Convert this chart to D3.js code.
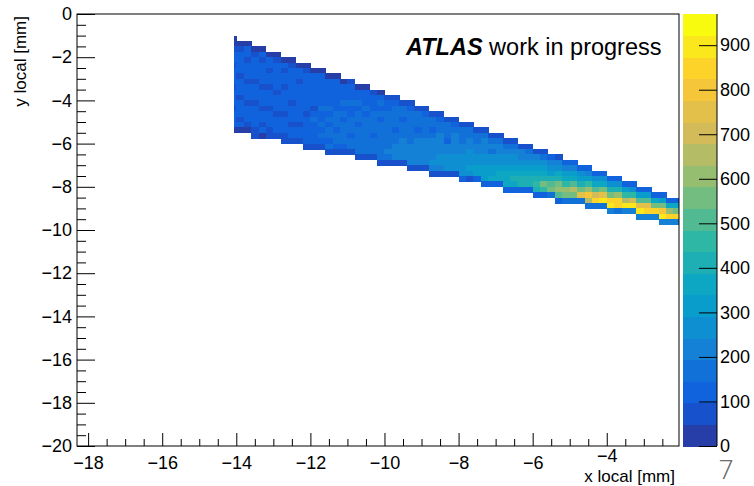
<!DOCTYPE html>
<html><head><meta charset="utf-8">
<script src="https://cdn.jsdelivr.net/npm/d3@7"></script>
<style>body{margin:0;background:#fff}svg{display:block}</style>
</head><body>
<svg id="chart" width="754" height="486"></svg>
<script>
// ---------------- data ----------------
const xMajorTicks = [-18,-16,-14,-12,-10,-8,-6,-4];
const xMinorTicks = [-17.5,-17,-16.5,-15.5,-15,-14.5,-13.5,-13,-12.5,-11.5,-11,-10.5,-9.5,-9,-8.5,-7.5,-7,-6.5,-5.5,-5,-4.5,-3.5,-3,-2.5];
const yMajorTicks = [0,-2,-4,-6,-8,-10,-12,-14,-16,-18,-20];
const yMinorTicks = [-0.5,-1,-1.5,-2.5,-3,-3.5,-4.5,-5,-5.5,-6.5,-7,-7.5,-8.5,-9,-9.5,-10.5,-11,-11.5,-12.5,-13,-13.5,-14.5,-15,-15.5,-16.5,-17,-17.5,-18.5,-19,-19.5];
const zTicks = [0,100,200,300,400,500,600,700,800,900];
const zMax = 970;
const nContours = 20;
const yBinWidth = 0.25;
// x bin edges of the 2D histogram (mm)
const xBinEdges = [-14.05,-14.0,-13.8,-13.6,-13.4,-13.2,-13.0,-12.8,-12.6,-12.4,-12.2,-12.0,-11.8,-11.6,-11.4,-11.2,-11.0,-10.8,-10.6,-10.4,-10.2,-10.0,-9.8,-9.6,-9.4,-9.2,-9.0,-8.8,-8.6,-8.4,-8.2,-8.0,-7.8,-7.6,-7.4,-7.2,-7.0,-6.8,-6.6,-6.4,-6.2,-6.0,-5.8,-5.6,-5.4,-5.2,-5.0,-4.8,-4.6,-4.4,-4.2,-4.0,-3.8,-3.6,-3.4,-3.2,-3.0,-2.8,-2.6,-2.4,-2.2,-2.0];
// index of the first filled y bin (counted downward from y=0) in each x column
const topRow = [4,5,5,6,6,7,7,8,8,9,9,10,10,11,11,12,12,13,13,14,14,15,15,16,16,17,17,18,18,19,19,20,20,21,21,22,22,23,23,24,24,25,25,26,26,27,27,28,28,29,29,30,30,31,31,32,32,33,33,34,34];
// entries per bin, from the top filled bin downward, one list per x column
const counts = [
 [40,45,90,115,120,85,125,110,130,95,120,105,125,90,115,120,100,40],
 [40,90,115,120,105,125,85,130,115,120,90,125,130,115,95,100,45],
 [35,105,120,90,125,115,130,95,125,110,120,85,125,120,110,90,40],
 [45,85,120,125,115,130,90,110,125,135,95,115,130,120,125,90,50],
 [40,100,90,130,120,110,135,85,120,115,130,95,125,130,90,115,45],
 [35,110,120,95,130,125,90,135,115,130,85,125,135,120,95,50],
 [45,90,125,120,115,135,130,95,125,130,140,90,130,125,100,55],
 [40,110,95,130,125,90,135,130,125,140,95,135,125,135,90,50],
 [35,95,125,120,135,100,125,140,90,135,125,140,95,130,125,55],
 [45,110,130,95,120,140,135,100,140,135,145,95,140,130,60],
 [40,95,125,135,130,100,140,135,145,95,140,145,135,100,130,50],
 [45,120,100,125,140,135,145,95,135,150,140,100,140,135,60],
 [40,100,135,130,145,100,135,150,145,105,150,145,150,105,65],
 [45,120,130,105,135,145,150,105,155,145,150,155,110,150,55],
 [40,105,135,145,140,110,145,155,150,160,110,150,160,145,65],
 [45,120,140,110,150,145,155,115,160,155,165,160,115,70],
 [50,110,135,145,150,115,145,160,155,165,120,170,160,65],
 [45,130,115,150,145,160,155,120,160,170,165,175,165,60],
 [40,115,145,140,155,120,165,155,170,175,165,180,170,70],
 [50,135,145,120,150,165,160,175,125,180,175,185,75],
 [45,120,150,145,160,125,170,165,180,175,185,190,180,65],
 [50,140,125,160,155,170,165,180,185,175,195,190,80],
 [55,125,155,160,170,175,130,190,185,200,205,195,75],
 [60,150,165,130,175,185,180,195,205,210,200,80],
 [55,130,160,170,165,180,190,185,200,210,220,205,75],
 [60,155,165,175,135,180,195,210,215,225,215,85],
 [55,135,170,180,175,190,205,215,225,235,220,80],
 [65,160,175,140,185,200,210,225,235,245,230,90],
 [60,140,170,185,195,205,220,230,245,255,235,85],
 [65,165,180,190,145,215,230,245,260,250,95],
 [70,145,185,195,210,225,240,260,275,265,90],
 [65,170,190,150,215,235,255,275,290,275,100],
 [75,150,185,205,225,245,265,285,305,285,95],
 [70,175,160,215,240,260,285,310,325,105],
 [75,155,195,220,235,255,280,305,330,315,100],
 [80,180,205,170,250,275,305,335,345,110],
 [75,160,210,235,260,290,320,355,365,105],
 [80,190,215,245,270,305,345,375,355,120],
 [85,170,225,255,285,325,365,405,385,115],
 [90,200,235,270,305,355,405,395,130],
 [85,180,240,280,325,375,435,415,125],
 [95,215,250,295,345,405,455,435,140],
 [90,190,260,310,365,435,535,475,135],
 [100,225,275,325,395,495,575,150],
 [95,200,285,340,415,535,625,495,145],
 [105,240,295,365,455,595,535,160],
 [100,215,305,385,495,675,575,155],
 [110,255,325,425,575,755,170],
 [105,230,335,445,615,795,675,165],
 [115,270,355,495,695,835,180],
 [110,245,375,535,775,875,190],
 [120,285,395,575,825,895,200],
 [115,260,415,615,855,865,190],
 [125,305,455,675,875,210],
 [120,280,475,715,895,200],
 [130,325,495,755,905,220],
 [125,300,515,775,855,210],
 [135,355,575,835,230],
 [130,320,535,815,875,220],
 [140,365,595,855,240],
 [135,340,575,825,230]
];
// ROOT kBird palette
const birdStops = [0.0,0.125,0.25,0.375,0.5,0.625,0.75,0.875,1.0];
const birdRed   = [0.2082,0.0592,0.0780,0.0232,0.1802,0.5301,0.8186,0.9956,0.9764];
const birdGreen = [0.1664,0.3599,0.5041,0.6419,0.7178,0.7492,0.7328,0.7862,0.9832];
const birdBlue  = [0.5293,0.8684,0.8385,0.7914,0.6425,0.4662,0.3499,0.1968,0.0539];

// ---------------- drawing ----------------
const svg = d3.select("#chart");
const FONT = "'Liberation Sans', Arial, Helvetica, sans-serif";
const frame = {left:77, right:679, top:14, bottom:446};
const x = d3.scaleLinear().domain([-18.3,-2.05]).range([frame.left, frame.right]);
const y = d3.scaleLinear().domain([-20,0]).range([frame.bottom, frame.top]);
const z = d3.scaleLinear().domain([0,zMax]).range([frame.bottom, frame.top]);

const birdColors = birdStops.map((s,i)=>d3.rgb(birdRed[i]*255,birdGreen[i]*255,birdBlue[i]*255).toString());
const palette = d3.scaleLinear().domain(birdStops).range(birdColors).interpolate(d3.interpolateRgb);
const levelColor = l => palette(Math.floor((l+0.99)*255/nContours)/254);
const zColor = v => levelColor(Math.max(0, Math.min(nContours-1, Math.floor(v/(zMax/nContours)))));

svg.append("defs").append("clipPath").attr("id","clipFrame")
  .append("rect").attr("x",frame.left).attr("y",frame.top)
  .attr("width",frame.right-frame.left).attr("height",frame.bottom-frame.top);

const cells = [];
counts.forEach((col,i)=>{
  col.forEach((v,j)=>{
    const row = topRow[i]+j;
    cells.push({x0:xBinEdges[i], x1:xBinEdges[i+1], yTop:-row*yBinWidth, yBot:-(row+1)*yBinWidth, v});
  });
});
svg.append("g").attr("clip-path","url(#clipFrame)").attr("shape-rendering","crispEdges")
  .selectAll("rect").data(cells).join("rect")
  .attr("x",d=>x(d.x0)).attr("width",d=>x(d.x1)-x(d.x0)+0.5)
  .attr("y",d=>y(d.yTop)).attr("height",d=>y(d.yBot)-y(d.yTop)+0.5)
  .attr("fill",d=>zColor(d.v));

// frame
svg.append("rect").attr("x",frame.left).attr("y",frame.top)
  .attr("width",frame.right-frame.left).attr("height",frame.bottom-frame.top)
  .attr("fill","none").attr("stroke","#000").attr("stroke-width",1);

function styleAxis(g){
  g.select(".domain").remove();
  g.selectAll("line").attr("stroke","#000");
  g.selectAll("text").attr("font-family",FONT).attr("font-size",18).attr("fill","#000");
}
const fmt = d3.format("d");
// y axis
svg.append("g").attr("transform",`translate(${frame.left},0)`)
  .call(d3.axisLeft(y).tickValues(yMinorTicks).tickSizeInner(-9).tickSizeOuter(0).tickFormat(""))
  .call(styleAxis);
svg.append("g").attr("transform",`translate(${frame.left},0)`)
  .call(d3.axisLeft(y).tickValues(yMajorTicks).tickSizeInner(-18).tickSizeOuter(0).tickPadding(5).tickFormat(fmt))
  .call(styleAxis);
// x axis
svg.append("g").attr("transform",`translate(0,${frame.bottom})`)
  .call(d3.axisBottom(x).tickValues(xMinorTicks).tickSizeInner(-7).tickSizeOuter(0).tickFormat(""))
  .call(styleAxis);
const xg = svg.append("g").attr("transform",`translate(0,${frame.bottom})`)
  .call(d3.axisBottom(x).tickValues(xMajorTicks).tickSizeInner(-13).tickSizeOuter(0).tickPadding(10).tickFormat(fmt))
  .call(styleAxis);
xg.selectAll(".tick").filter(d=>d===-4).select("text").attr("y",3);

// titles
svg.append("text").attr("x",675).attr("y",482).attr("text-anchor","end")
  .attr("font-family",FONT).attr("font-size",17).text("x local [mm]");
svg.append("text").attr("transform","translate(26,16) rotate(-90)").attr("text-anchor","end")
  .attr("font-family",FONT).attr("font-size",17).text("y local [mm]");

// colour bar
const cb = {left:683, right:717};
const levels = d3.range(nContours);
svg.append("g").attr("shape-rendering","crispEdges").selectAll("rect").data(levels).join("rect")
  .attr("x",cb.left).attr("width",cb.right-cb.left)
  .attr("y",l=>z((l+1)*zMax/nContours)).attr("height",l=>z(l*zMax/nContours)-z((l+1)*zMax/nContours)+0.5)
  .attr("fill",l=>levelColor(l));
svg.append("g").attr("transform",`translate(${cb.right},0)`)
  .call(d3.axisRight(z).tickValues(zTicks).tickSizeInner(-18).tickSizeOuter(0).tickPadding(3).tickFormat(fmt))
  .call(styleAxis);
svg.append("line").attr("x1",cb.right).attr("x2",cb.right).attr("y1",frame.top).attr("y2",frame.bottom).attr("stroke","#000");

// label
const lab = svg.append("text").attr("x",406).attr("y",55).attr("font-family",FONT).attr("font-size",23.5);
lab.append("tspan").attr("font-weight","bold").attr("font-style","italic").text("ATLAS");
lab.append("tspan").text(" work in progress");

// page number
svg.append("text").attr("x",719).attr("y",479).attr("font-family","Roboto, sans-serif").attr("font-weight",300)
  .attr("font-size",26).attr("fill","#6d6d6d").text("7");
</script>
</body></html>
